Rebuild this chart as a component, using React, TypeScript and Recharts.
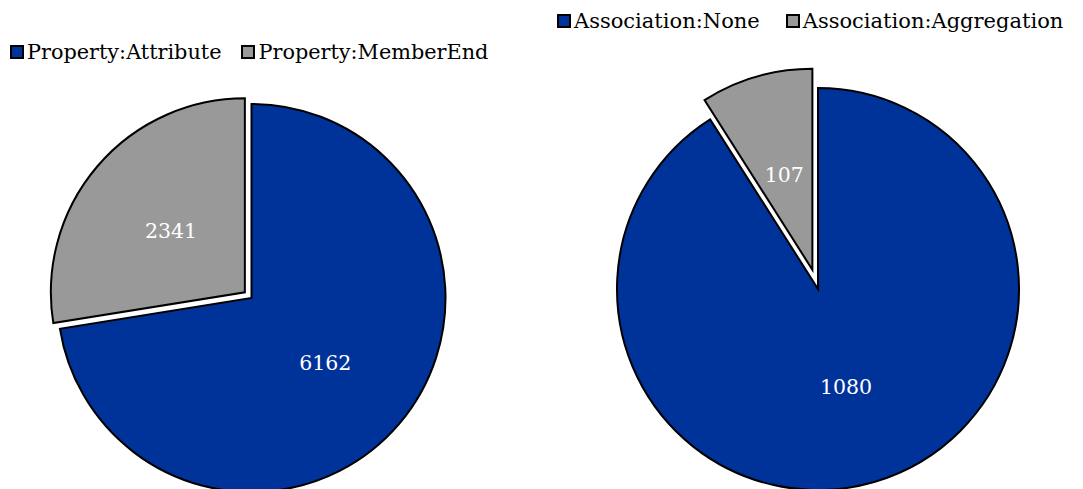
import React from 'react';
import { PieChart, Pie, Cell, Legend } from 'recharts';

const propertyNames = ['Property:Attribute', 'Property:MemberEnd'];
const propertyValues = [6162, 2341];
const associationNames = ['Association:None', 'Association:Aggregation'];
const associationValues = [1080, 107];
const sliceColors = ['#003399', '#999999'];

const FONT = "'DejaVu Serif', serif";
const RADIAN = Math.PI / 180;

type Row = { name: string; value: number };
const buildRows = (names: string[], values: number[]): Row[] =>
  names.map((name, i) => ({ name, value: values[i] }));

const propertyData = buildRows(propertyNames, propertyValues);
const associationData = buildRows(associationNames, associationValues);

// mid-angle (recharts degrees) of slice `idx` when drawn clockwise from 12 o'clock
function midAngleOf(values: number[], idx: number) {
  const total = values.reduce((a, b) => a + b, 0);
  let start = 90;
  for (let i = 0; i < idx; i++) start -= (values[i] / total) * 360;
  const end = start - (values[idx] / total) * 360;
  return (start + end) / 2;
}

const makeLabel = (visibleIndex: number) => (props: any) => {
  const { cx, cy, midAngle, outerRadius, index, value } = props;
  if (index !== visibleIndex) return null;
  const r = outerRadius * 0.5;
  const x = cx + r * Math.cos(-midAngle * RADIAN);
  const y = cy + r * Math.sin(-midAngle * RADIAN);
  return (
    <text
      x={x}
      y={y}
      dy={2}
      fill="#ffffff"
      textAnchor="middle"
      dominantBaseline="central"
      fontFamily={FONT}
      fontSize={20.5}
    >
      {value}
    </text>
  );
};

const LegendContent = ({ names, gap, fontSize }: { names: string[]; gap: number; fontSize: number }) => (
  <div style={{ display: 'flex', alignItems: 'center', fontFamily: FONT, fontSize, color: '#000', whiteSpace: 'nowrap' }}>
    {names.map((n, i) => (
      <div key={n} style={{ display: 'flex', alignItems: 'center', marginRight: i === 0 ? gap : 0 }}>
        <span
          style={{
            display: 'inline-block',
            width: 10,
            height: 10,
            background: sliceColors[i],
            border: '2px solid #000',
            marginRight: 3,
          }}
        />
        <span>{n}</span>
      </div>
    ))}
  </div>
);

type ExplodedPieProps = {
  data: Row[];
  values: number[];
  names: string[];
  width: number;
  height: number;
  cx: number;
  cy: number;
  radius: number;
  explodeIndex: number;
  explodeFrac: number;
  legendTop: number;
  legendLeft: number;
  legendGap: number;
  legendFont: number;
};

function ExplodedPie(p: ExplodedPieProps) {
  const mid = midAngleOf(p.values, p.explodeIndex);
  const d = p.radius * p.explodeFrac;
  const ecx = p.cx + d * Math.cos(-mid * RADIAN);
  const ecy = p.cy + d * Math.sin(-mid * RADIAN);
  const baseIndex = p.explodeIndex === 0 ? 1 : 0;
  return (
    <PieChart width={p.width} height={p.height} margin={{ top: 0, right: 0, bottom: 0, left: 0 }}>
      <Legend
        verticalAlign="bottom"
        align="left"
        height={0}
        wrapperStyle={{ top: p.legendTop, left: p.legendLeft, bottom: 'auto', width: 'auto' }}
        content={() => <LegendContent names={p.names} gap={p.legendGap} fontSize={p.legendFont} />}
      />
      <Pie
        data={p.data}
        dataKey="value"
        nameKey="name"
        cx={p.cx}
        cy={p.cy}
        outerRadius={p.radius}
        startAngle={90}
        endAngle={-270}
        stroke="#000"
        strokeWidth={2}
        labelLine={false}
        label={makeLabel(baseIndex)}
        isAnimationActive={false}
        legendType="none"
      >
        {p.data.map((_, i) => (
          <Cell
            key={i}
            fill={i === p.explodeIndex ? 'none' : sliceColors[i]}
            stroke={i === p.explodeIndex ? 'none' : '#000'}
          />
        ))}
      </Pie>
      <Pie
        data={p.data}
        dataKey="value"
        nameKey="name"
        cx={ecx}
        cy={ecy}
        outerRadius={p.radius}
        startAngle={90}
        endAngle={-270}
        stroke="#000"
        strokeWidth={2}
        labelLine={false}
        label={makeLabel(p.explodeIndex)}
        isAnimationActive={false}
        legendType="none"
      >
        {p.data.map((_, i) => (
          <Cell
            key={i}
            fill={i === p.explodeIndex ? sliceColors[i] : 'none'}
            stroke={i === p.explodeIndex ? '#000' : 'none'}
          />
        ))}
      </Pie>
    </PieChart>
  );
}

export default function App() {
  return (
    <div style={{ position: 'fixed', left: 0, top: 0, width: 1083, height: 489, background: '#fff', overflow: 'hidden' }}>
      <div style={{ position: 'absolute', left: 0, top: 0 }}>
        <ExplodedPie
          data={propertyData}
          values={propertyValues}
          names={propertyNames}
          width={541}
          height={489}
          cx={251.5}
          cy={298}
          radius={194}
          explodeIndex={1}
          explodeFrac={0.045}
          legendTop={40}
          legendLeft={10}
          legendGap={20}
          legendFont={20.8}
        />
      </div>
      <div style={{ position: 'absolute', left: 541, top: 0 }}>
        <ExplodedPie
          data={associationData}
          values={associationValues}
          names={associationNames}
          width={542}
          height={489}
          cx={277}
          cy={289}
          radius={201}
          explodeIndex={1}
          explodeFrac={0.1}
          legendTop={9}
          legendLeft={16}
          legendGap={26}
          legendFont={21}
        />
      </div>
    </div>
  );
}
